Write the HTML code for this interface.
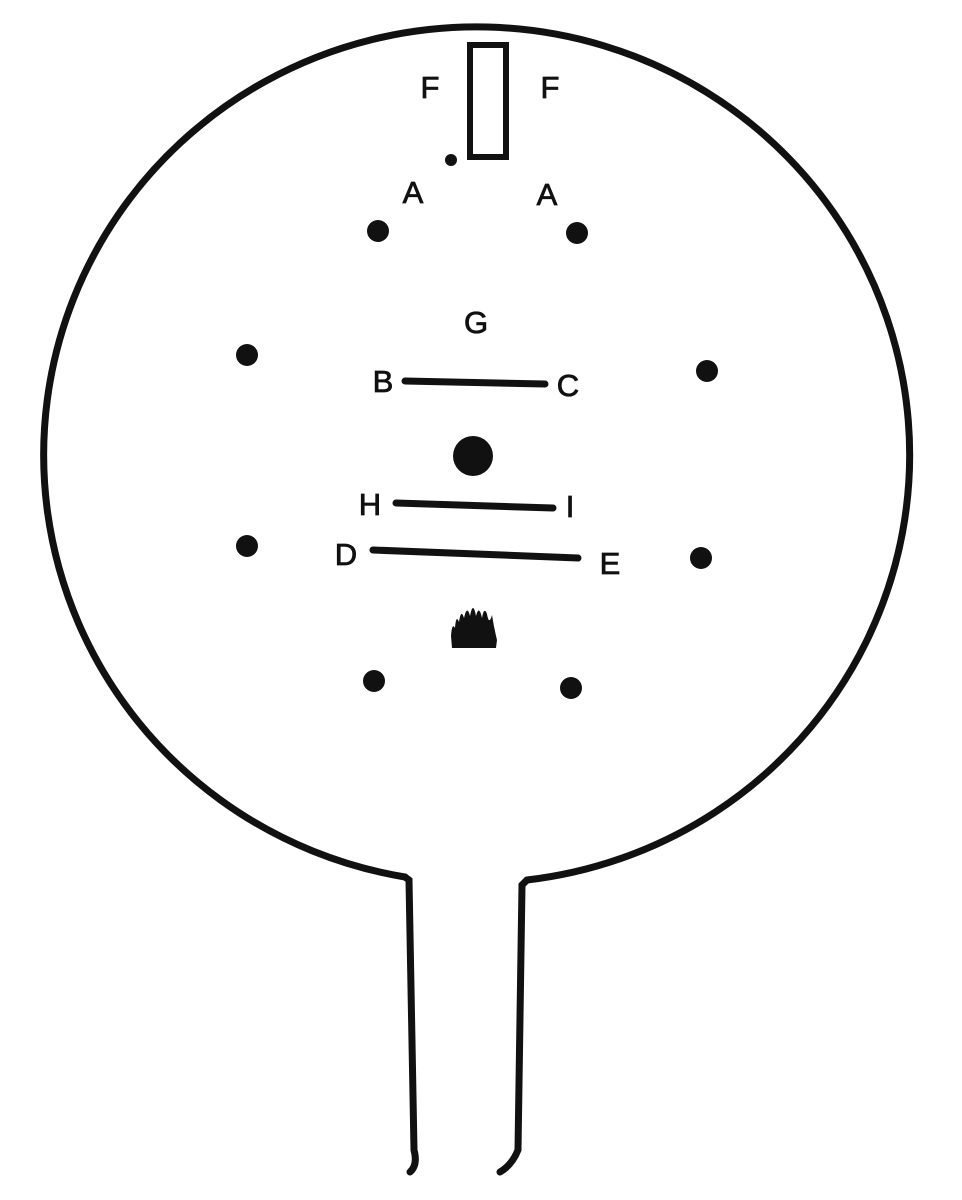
<!DOCTYPE html>
<html><head><meta charset="utf-8"><style>
html,body{margin:0;padding:0;background:#fff;}
svg{display:block}
text{font-family:"Liberation Sans",sans-serif;font-size:31px;fill:#111;stroke:#111;stroke-width:0.8;text-anchor:middle;dominant-baseline:middle}
</style></head><body>
<svg width="962" height="1200" viewBox="0 0 962 1200">
<g stroke="#111" stroke-width="7" fill="none" stroke-linecap="round">
<path d="M405,877 A433,428 0 1 1 527,880"/>
<path d="M405,877 L409,880 L414,1150 Q418,1165 410,1172"/>
<path d="M527,880 L522,885 L518,1150 Q512,1165 500,1172"/>
<rect x="470" y="45" width="36" height="112" stroke-width="6"/>
<line x1="405" y1="381" x2="545" y2="384"/>
<line x1="396" y1="503" x2="553" y2="508"/>
<line x1="373" y1="550" x2="578" y2="558"/>
</g>
<g fill="#111">
<circle cx="378" cy="231" r="11"/>
<circle cx="577" cy="233" r="11"/>
<circle cx="247" cy="355" r="11"/>
<circle cx="707" cy="371" r="11"/>
<circle cx="247" cy="546" r="11"/>
<circle cx="701" cy="558" r="11"/>
<circle cx="374" cy="681" r="11"/>
<circle cx="571" cy="688" r="11"/>
<circle cx="451" cy="160" r="6"/>
<circle cx="473" cy="456" r="20"/>
<path d="M452,648 L496,648 L497,640 Q494,628 492,615 Q489,626 487,614 Q484,606 482,618 Q479,604 476,616 Q473,600 470,616 Q467,604 464,618 Q461,608 459,622 Q456,614 455,628 Q452,622 451,636 Z"/>
</g>
<text x="430" y="90">F</text>
<text x="550" y="90">F</text>
<text x="413" y="195">A</text>
<text x="547" y="197">A</text>
<text x="476" y="325">G</text>
<text x="383" y="384">B</text>
<text x="568" y="388">C</text>
<text x="370" y="507">H</text>
<text x="570" y="509">I</text>
<text x="346" y="557">D</text>
<text x="610" y="566">E</text>
</svg>
</body></html>
